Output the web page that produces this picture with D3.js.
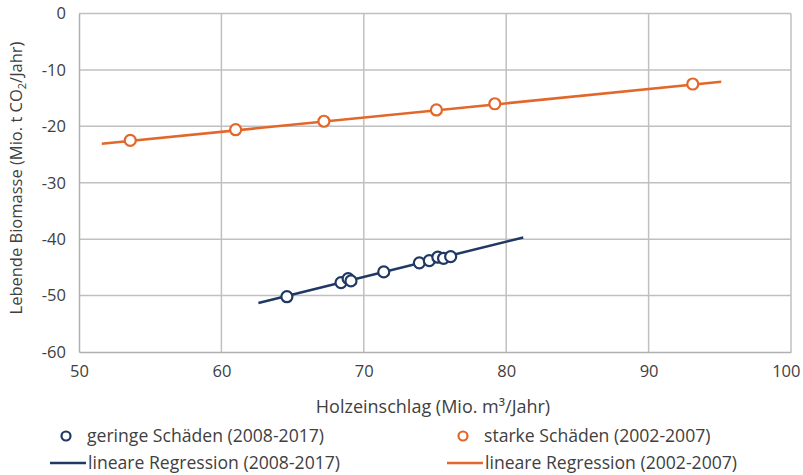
<!DOCTYPE html>
<html><head><meta charset="utf-8">
<script src="https://cdn.jsdelivr.net/npm/d3@7"></script>
<style>body{margin:0;background:#fff}svg{display:block}text{font-family:"Open Sans",sans-serif;fill:#404040}</style>
</head><body><svg id="c" width="803" height="475"></svg>
<script>
const geringX = [64.6, 68.4, 68.9, 69.1, 71.4, 73.9, 74.6, 75.2, 75.6, 76.1];
const geringY = [-50.2, -47.7, -47.0, -47.4, -45.8, -44.2, -43.8, -43.2, -43.4, -43.1];
const starkX = [53.6, 61.0, 67.2, 75.1, 79.2, 93.1];
const starkY = [-22.5, -20.6, -19.1, -17.1, -16.0, -12.5];
const regGeringX = [62.6, 81.2];
const regGeringY = [-51.3, -39.7];
const regStarkX = [51.6, 95.1];
const regStarkY = [-23.1, -12.1];
const xTicks = [50, 60, 70, 80, 90, 100];
const yTicks = [0, -10, -20, -30, -40, -50, -60];
const blue = "#1f3864", orange = "#e2672b";

const svg = d3.select("#c");
const x = d3.scaleLinear().domain([50, 100]).range([79, 791]);
const y = d3.scaleLinear().domain([-60, 0]).range([352, 13.5]);

// grid
svg.append("g").selectAll("line").data(xTicks.slice(1)).join("line")
  .attr("x1", d => x(d)).attr("x2", d => x(d)).attr("y1", y(0)).attr("y2", y(-60))
  .attr("stroke", "#c0c0c0").attr("stroke-width", 1.5);
svg.append("g").selectAll("line").data(yTicks.slice(0, -1)).join("line")
  .attr("x1", x(50)).attr("x2", x(100)).attr("y1", d => y(d)).attr("y2", d => y(d))
  .attr("stroke", "#c0c0c0").attr("stroke-width", 1.5);

// axes
const fmt = d => String(d);
const xa = svg.append("g").attr("transform", `translate(0,${y(-60)})`)
  .call(d3.axisBottom(x).tickValues(xTicks).tickFormat(fmt).tickSize(0).tickPadding(13));
const ya = svg.append("g").attr("transform", `translate(${x(50)},0)`)
  .call(d3.axisLeft(y).tickValues(yTicks).tickFormat(fmt).tickSize(0).tickPadding(13));
[xa, ya].forEach(a => {
  a.select(".domain").attr("stroke", "#b0b0b0").attr("stroke-width", 1.5);
  a.selectAll("text").attr("font-size", 16.5).attr("fill", "#404040").attr("font-family", "'Open Sans', sans-serif");
});
// keep last x label inside the page
xa.selectAll(".tick").filter(d => d === 100).select("text").attr("text-anchor", "end").attr("x", 9);

// regression lines
const line = d3.line().x(d => x(d[0])).y(d => y(d[1]));
svg.append("path").datum(d3.zip(regStarkX, regStarkY)).attr("d", line)
  .attr("stroke", orange).attr("stroke-width", 2.5).attr("fill", "none");
svg.append("path").datum(d3.zip(regGeringX, regGeringY)).attr("d", line)
  .attr("stroke", blue).attr("stroke-width", 2.5).attr("fill", "none");

// points
svg.append("g").selectAll("circle").data(d3.zip(starkX, starkY)).join("circle")
  .attr("cx", d => x(d[0])).attr("cy", d => y(d[1])).attr("r", 5.5)
  .attr("fill", "#fff").attr("stroke", orange).attr("stroke-width", 2.2);
svg.append("g").selectAll("circle").data(d3.zip(geringX, geringY)).join("circle")
  .attr("cx", d => x(d[0])).attr("cy", d => y(d[1])).attr("r", 5.5)
  .attr("fill", "#fff").attr("stroke", blue).attr("stroke-width", 2.2);

// axis titles
svg.append("text").attr("x", 433).attr("y", 413).attr("text-anchor", "middle")
  .attr("font-size", 18).text("Holzeinschlag (Mio. m³/Jahr)");
const yt = svg.append("text").attr("transform", "translate(22,178) rotate(-90)")
  .attr("text-anchor", "middle").attr("font-size", 16.5);
yt.append("tspan").text("Lebende  Biomasse (Mio. t CO");
yt.append("tspan").attr("font-size", 11).attr("dy", 4).text("2");
yt.append("tspan").attr("dy", -4).text("/Jahr)");

// legend
const leg = [
  {t: "geringe Schäden (2008-2017)", c: blue, m: "circle", x: 66, y: 436},
  {t: "starke Schäden (2002-2007)", c: orange, m: "circle", x: 463, y: 436},
  {t: "lineare Regression (2008-2017)", c: blue, m: "line", x: 68, y: 463},
  {t: "lineare Regression (2002-2007)", c: orange, m: "line", x: 465, y: 463}
];
leg.forEach(l => {
  if (l.m === "circle") {
    svg.append("circle").attr("cx", l.x).attr("cy", l.y).attr("r", 4.5)
      .attr("fill", "#fff").attr("stroke", l.c).attr("stroke-width", 2.2);
  } else {
    svg.append("line").attr("x1", l.x - 18).attr("x2", l.x + 18).attr("y1", l.y).attr("y2", l.y)
      .attr("stroke", l.c).attr("stroke-width", 2.5);
  }
  svg.append("text").attr("x", l.m === "circle" ? l.x + 21 : l.x + 20).attr("y", l.y + 6)
    .attr("font-size", 17.6).text(l.t);
});
</script></body></html>
